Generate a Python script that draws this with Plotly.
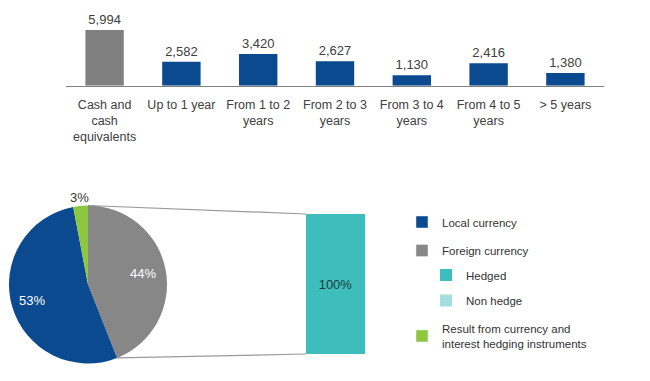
import math
import plotly.graph_objects as go

W, H = 650, 381

# ---------------- data ----------------
categories = ["Cash and<br>cash<br>equivalents", "Up to 1 year", "From 1 to 2<br>years",
              "From 2 to 3<br>years", "From 3 to 4<br>years", "From 4 to 5<br>years", "> 5 years"]
maturity_values = [5994, 2582, 3420, 2627, 1130, 2416, 1380]
maturity_colors = ["#808080", "#0B4A8E", "#0B4A8E", "#0B4A8E", "#0B4A8E", "#0B4A8E", "#0B4A8E"]

pie_labels = ["Foreign currency", "Local currency", "Result from currency and interest hedging instruments"]
pie_values = [44, 53, 3]
pie_colors = ["#878787", "#0B4A8E", "#8DC63F"]

foreign_category = ["Foreign currency"]
hedged_values = [100]
non_hedge_values = [0]

legend_names = ["Local currency", "Foreign currency", "Hedged", "Non hedge",
                "Result from currency and<br>interest hedging instruments"]

FONT = "Liberation Sans, Arial, sans-serif"
TEAL = "#3DBEBD"

# ---------------- layout geometry (pixels) ----------------
def px_x(p):
    return p / W

def px_y(p):
    return 1 - p / H

pie_cx, pie_cy, pie_r = 88, 284.5, 79
bar2_left, bar2_right, bar2_top, bar2_bottom = 306, 365, 214, 354

fig = go.Figure()

# maturity bars
fig.add_trace(go.Bar(
    x=categories, y=maturity_values, marker=dict(color=maturity_colors, line=dict(width=0)),
    texttemplate="%{y:,}", textposition="outside", cliponaxis=False,
    textfont=dict(family=FONT, size=13, color="#404040"),
    showlegend=False, hoverinfo="x+y", xaxis="x", yaxis="y"))

# pie
fig.add_trace(go.Pie(
    labels=pie_labels, values=pie_values, sort=False, direction="clockwise", rotation=0,
    marker=dict(colors=pie_colors, line=dict(width=0)),
    textinfo="none",
    domain=dict(x=[px_x(pie_cx - pie_r), px_x(pie_cx + pie_r)],
                y=[px_y(pie_cy + pie_r), px_y(pie_cy - pie_r)]),
    showlegend=False))

# pie slice labels, placed along each slice's mid angle
annotations = []
total = sum(pie_values)
start = 0.0
label_radius = [0.71, 0.74, 1.10]
label_color = ["white", "white", "#333333"]
for i, v in enumerate(pie_values):
    mid = math.radians((start + v / 2) / total * 360)
    start += v
    rr = pie_r * label_radius[i]
    lx = pie_cx + rr * math.sin(mid)
    ly = pie_cy - rr * math.cos(mid)
    annotations.append(dict(x=px_x(lx), y=px_y(ly), xref="paper", yref="paper",
                            text=f"{v}%", showarrow=False, xanchor="center", yanchor="middle",
                            font=dict(family=FONT, size=13, color=label_color[i])))

# foreign currency breakdown bar
fig.add_trace(go.Bar(
    x=foreign_category, y=hedged_values, width=[1], name=legend_names[2],
    marker=dict(color=TEAL, line=dict(width=0)),
    texttemplate="%{y}%", textposition="inside", insidetextanchor="middle",
    textfont=dict(family=FONT, size=13, color="#1E3A3A"), textangle=0,
    xaxis="x2", yaxis="y2", legend="legend3"))
fig.add_trace(go.Bar(
    x=foreign_category, y=non_hedge_values, width=[1], name=legend_names[3],
    marker=dict(color="#BDE6E5", line=dict(width=0),
                pattern=dict(shape=".", fgcolor="#4FC2C1", size=3, solidity=0.45)),
    xaxis="x2", yaxis="y2", legend="legend4"))

# legend entries for the pie slices
for name, color, leg in [(legend_names[0], pie_colors[1], "legend"),
                         (legend_names[1], pie_colors[0], "legend2"),
                         (legend_names[4], pie_colors[2], "legend5")]:
    fig.add_trace(go.Bar(x=[None], y=[None], name=name, marker=dict(color=color),
                         xaxis="x3", yaxis="y3", legend=leg, showlegend=True))

# connector lines from the foreign currency slice to the bar
end_angle = math.radians(pie_values[0] / total * 360)
p_top = (pie_cx, pie_cy - pie_r)
p_bot = (pie_cx + pie_r * math.sin(end_angle), pie_cy - pie_r * math.cos(end_angle))
shapes = []
for (x0, y0), (x1, y1) in [(p_top, (bar2_left, bar2_top)), (p_bot, (bar2_left, bar2_bottom))]:
    shapes.append(dict(type="line", xref="paper", yref="paper",
                       x0=px_x(x0), y0=px_y(y0), x1=px_x(x1), y1=px_y(y1),
                       line=dict(color="#9A9A9A", width=1.2), layer="below"))

leg_font = dict(family=FONT, size=11.5, color="#333333")

def legend_at(x, y):
    return dict(x=px_x(x), y=px_y(y), xanchor="left", yanchor="middle", font=leg_font,
                bgcolor="rgba(0,0,0,0)", borderwidth=0, itemclick=False, itemdoubleclick=False)

fig.update_layout(
    width=W, height=H, margin=dict(l=0, r=0, t=0, b=0),
    paper_bgcolor="white", plot_bgcolor="white",
    barmode="overlay", bargap=0.5,
    font=dict(family=FONT, color="#404040"),
    xaxis=dict(domain=[px_x(66.2), px_x(603.8)], showline=True, linecolor="#808080", linewidth=1,
               ticks="", showgrid=False, tickfont=dict(family=FONT, size=12.5, color="#404040"),
               ticklabelstandoff=7, fixedrange=True),
    yaxis=dict(domain=[px_y(85.7), px_y(10)], range=[0, 5994 * (85.7 - 10) / (85.7 - 30)],
               visible=False, showgrid=False, zeroline=False, fixedrange=True),
    xaxis2=dict(domain=[px_x(bar2_left), px_x(bar2_right)], anchor="y2", range=[-0.5, 0.5],
                visible=False, fixedrange=True),
    yaxis2=dict(domain=[px_y(bar2_bottom), px_y(bar2_top)], anchor="x2", range=[0, 100],
                visible=False, fixedrange=True),
    xaxis3=dict(domain=[0.99, 1], anchor="y3", visible=False),
    yaxis3=dict(domain=[0, 0.01], anchor="x3", visible=False),
    legend=legend_at(402, 222),
    legend2=legend_at(402, 250.5),
    legend3=legend_at(426, 275),
    legend4=legend_at(426, 300.5),
    legend5=legend_at(402, 336),
    shapes=shapes,
    annotations=annotations,
)

fig.write_html("out.html", config={"displayModeBar": False},
               post_script="document.body.style.margin='0';document.body.style.overflow='hidden';")
